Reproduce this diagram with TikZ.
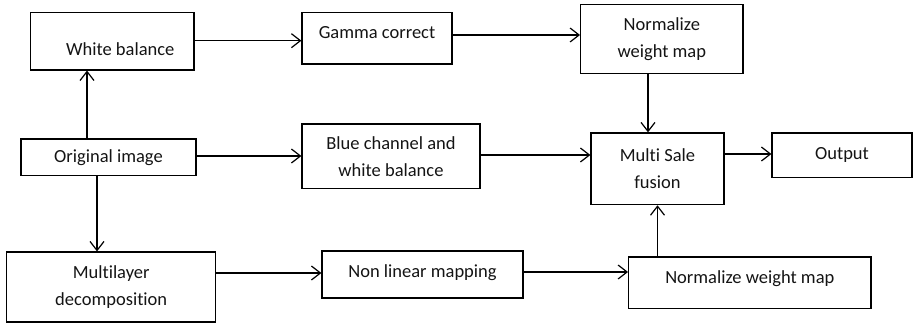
\documentclass[tikz,border=0pt]{standalone}
\usepackage{fontspec}
\setmainfont{Carlito}[Ligatures=NoCommon]
\usetikzlibrary{arrows.meta}
\newcommand{\shiftedtext}[2]{\raisebox{#1}[\height][\depth]{#2}}
\begin{document}
\begin{tikzpicture}[x=1pt,y=-1pt,
 box/.style={draw=black, line width=1.2pt, inner sep=0pt, align=center,
   font=\fontsize{18.5}{27}\selectfont, text=black!92},
 arr/.style={line width=1.2pt, -{Straight Barb[length=9pt,width=14pt]}}]
\useasboundingbox (0,0) rectangle (913,326);
\node[box, minimum width=163.3pt, minimum height=57.3pt] (wb) at (112.3,41.3)
  {\shiftedtext{-8pt}{\hspace*{16pt}White balance}};
\node[box, minimum width=150pt, minimum height=51.3pt] (gamma) at (377,38.3)
  {\shiftedtext{6pt}{Gamma correct}};
\node[box, minimum width=162.3pt, minimum height=69.4pt] (nwm1) at (661.8,39)
  {Normalize\\weight map};
\node[box, minimum width=175pt, minimum height=36.3pt] (orig) at (108.5,157.2)
  {Original image};
\node[box, minimum width=178pt, minimum height=64.7pt] (blue) at (391,156.3)
  {Blue channel and\\white balance};
\node[box, minimum width=133pt, minimum height=71.7pt] (multi) at (657.5,168.8)
  {Multi Sale\\fusion};
\node[box, minimum width=140pt, minimum height=44.3pt] (out) at (842,155.2)
  {Output};
\node[box, minimum width=209pt, minimum height=70pt] (ml) at (111.2,287)
  {Multilayer\\decomposition};
\node[box, minimum width=201pt, minimum height=47pt] (nl) at (422.5,274.5)
  {\shiftedtext{2pt}{Non linear mapping}};
\node[box, minimum width=242.3pt, minimum height=51.7pt] (nwm2) at (749.8,282.8)
  {\shiftedtext{4pt}{Normalize weight map}};
% connectors
\draw[arr] ([yshift=0.6pt]wb.east) -- ([yshift=0.6pt]gamma.west |- wb.east);
\draw[arr] ([yshift=3.3pt]gamma.east) -- ([yshift=3.3pt]nwm1.west |- gamma.east);
\draw[arr] ([xshift=-13.8pt]nwm1.south) -- ([xshift=-13.8pt]nwm1.south |- multi.north);
\draw[arr] ([xshift=-21.5pt]orig.north) -- ([xshift=-21.5pt]orig.north |- wb.south);
\draw[arr] ([xshift=-11.5pt]orig.south) -- ([xshift=-11.5pt]orig.south |- ml.north);
\draw[arr] ([yshift=1.2pt]orig.east) -- ([yshift=1.2pt]blue.west |- orig.east);
\draw[arr] ([yshift=1.3pt]blue.east) -- ([yshift=1.3pt]multi.west |- blue.east);
\draw[arr] ([yshift=14.8pt]multi.east) -- ([yshift=14.8pt]out.west |- multi.east);
\draw[arr] ([yshift=14pt]ml.east) -- ([yshift=14pt]nl.west |- ml.east);
\draw[arr] ([yshift=2.5pt]nl.east) -- ([yshift=2.5pt]nwm2.west |- nl.east);
\draw[arr] (nwm2.north -| multi.south) -- (multi.south);
\end{tikzpicture}
\end{document}
